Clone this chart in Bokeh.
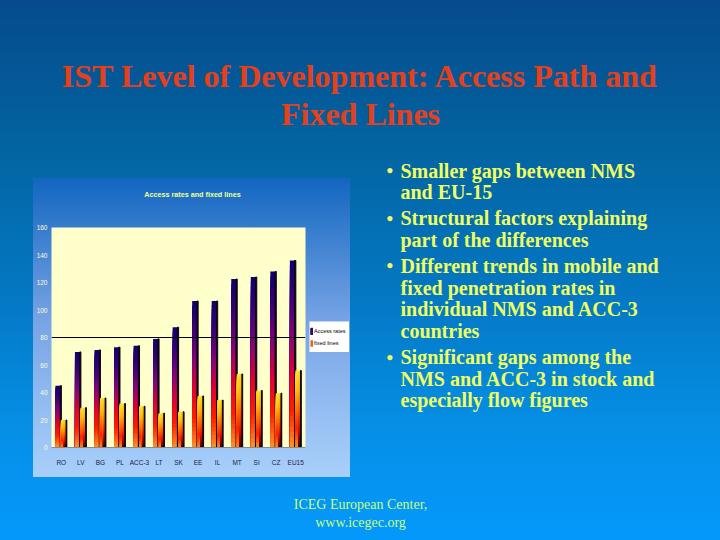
from bokeh.embed import file_html
from bokeh.resources import INLINE
from bokeh.plotting import figure
from bokeh.models import (ColumnDataSource, Label, Legend, LegendItem, Range1d,
                          Span, FixedTicker, NumeralTickFormatter)
from bokeh.transform import dodge

countries = ["RO", "LV", "BG", "PL", "ACC-3", "LT", "SK", "EE", "IL", "MT", "SI", "CZ", "EU15"]
access_rates = [45, 69.5, 71, 73, 74, 79, 87.5, 106.5, 106.5, 122.5, 124, 128, 136]
fixed_lines = [20, 29, 36, 32, 30, 25, 26, 37.5, 34.5, 53.5, 41.5, 39.5, 56]
y_ticks = [0, 20, 40, 60, 80, 100, 120, 140, 160]

title_lines = ["IST Level of Development: Access Path and", "Fixed Lines"]
bullets = [
    ["Smaller gaps between NMS", "and EU-15"],
    ["Structural factors explaining", "part of the differences"],
    ["Different trends in mobile and", "fixed penetration rates in", "individual NMS and ACC-3", "countries"],
    ["Significant gaps among the", "NMS and ACC-3 in stock and", "especially flow figures"],
]
footer_lines = ["ICEG European Center,", "www.icegec.org"]
chart_title = "Access rates and fixed lines"
series_names = ["Access rates", "fixed lines"]

# colour ramps, bottom of the bar to its top
access_ramp = [(250, 150, 40), (255, 30, 0), (225, 0, 50), (130, 5, 120), (60, 0, 120), (15, 0, 110)]
fixed_ramp = [(250, 140, 30), (255, 30, 0), (255, 110, 0), (255, 190, 20), (255, 225, 40)]
fixed_ramp_dark = [(50, 5, 0), (220, 15, 0), (255, 90, 0), (255, 170, 10), (255, 215, 30)]


def ramp_colour(ramp, t):
    pos = t * (len(ramp) - 1)
    i = min(int(pos), len(ramp) - 2)
    f = pos - i
    c = [round(ramp[i][k] + (ramp[i + 1][k] - ramp[i][k]) * f) for k in range(3)]
    return "#%02x%02x%02x" % tuple(c)


W, H = 720, 540

# slide: background and its texts
slide = figure(frame_width=W, frame_height=H, output_backend="svg", toolbar_location=None,
               x_range=Range1d(0, W), y_range=Range1d(H, 0),
               min_border=0, margin=0, border_fill_color=None, background_fill_color=None,
               x_axis_location=None, y_axis_location=None)
slide.styles = {"background": "linear-gradient(180deg,#064a8c 0%,#03629f 25%,#0478c4 55%,#0590e6 80%,#0598fc 100%)"}
slide.outline_line_color = None
slide.grid.visible = False


def text(x, y, s, color, size, style="normal", align="left"):
    slide.add_layout(Label(x=x, y=y, text=s, text_color=color, text_font="Liberation Serif",
                           text_font_size=size, text_font_style=style, text_align=align,
                           text_baseline="middle"))


TITLE = "#e5401c"
text(360, 75, title_lines[0], TITLE, "32px", "bold", "center")
text(360, 113, title_lines[1], TITLE, "32px", "bold", "center")

BODY = "#f0ff60"
y = 170
for b in bullets:
    text(386, y, "•", BODY, "19px", "bold")
    for k, line in enumerate(b):
        text(400, y, line, BODY, "20px", "bold")
        y += 26 if k == len(b) - 1 else 21.7

FOOT = "#c4ff7a"
text(360, 504, footer_lines[0], FOOT, "14px", "normal", "center")
text(360, 522, footer_lines[1], FOOT, "14px", "normal", "center")

# chart panel, laid over the slide
p = figure(width=317, height=299, output_backend="svg", toolbar_location=None,
           x_range=countries, y_range=(0, 160),
           min_border_left=18, min_border_right=45, min_border_top=49, min_border_bottom=30,
           margin=(178 - H, 0, 0, 33), border_fill_color=None, background_fill_color="#ffffcc")
p.styles = {"background": "linear-gradient(180deg,#1266c0 0%,#78a4e5 48%,#a9d0fb 100%)"}
p.outline_line_color = None
p.grid.visible = False


def slices(values, ramp, offset, width, n=36):
    xs, tops, cols = [], [], []
    for c, v in zip(countries, values):
        for j in reversed(range(n)):
            xs.append(c)
            tops.append(v * (j + 1) / n)
            cols.append(ramp_colour(ramp, (j + 0.5) / n))
    src = ColumnDataSource(dict(x=xs, top=tops, color=cols))
    return p.vbar(x=dodge("x", offset, range=p.x_range), bottom=0, top="top", width=width,
                  fill_color="color", line_color=None, source=src)


src_a = ColumnDataSource(dict(x=countries, top=access_rates))
src_f = ColumnDataSource(dict(x=countries, top=fixed_lines))
slices(access_rates, access_ramp, -0.17, 0.26)
p.vbar(x=dodge("x", -0.025, range=p.x_range), top="top", bottom=0, width=0.06, color="#0a0510", source=src_a)
slices(fixed_lines, fixed_ramp, 0.06, 0.16)
slices(fixed_lines, fixed_ramp_dark, 0.19, 0.12)
p.vbar(x=dodge("x", 0.265, range=p.x_range), top="top", bottom=0, width=0.04, color="#0a0510", source=src_f)

p.add_layout(Span(location=80, dimension="width", line_color="#000000", line_width=1.2))

p.yaxis.ticker = FixedTicker(ticks=y_ticks)
p.yaxis.formatter = NumeralTickFormatter(format="0")
p.yaxis.axis_line_color = None
p.yaxis.major_tick_line_color = None
p.yaxis.minor_tick_line_color = None
p.yaxis.major_tick_out = 0
p.yaxis.major_tick_in = 0
p.yaxis.major_label_text_color = "#ffffd8"
p.yaxis.major_label_text_font = "Liberation Sans"
p.yaxis.major_label_text_font_size = "6.5px"
p.yaxis.major_label_standoff = 4
p.xaxis.axis_line_color = "#8a8a8a"
p.xaxis.axis_line_width = 1
p.xaxis.major_tick_line_color = None
p.xaxis.minor_tick_line_color = None
p.xaxis.major_tick_out = 0
p.xaxis.major_tick_in = 0
p.xaxis.major_label_text_color = "#1a2340"
p.xaxis.major_label_text_font = "Liberation Sans"
p.xaxis.major_label_text_font_size = "6.5px"
p.xaxis.major_label_standoff = 11

# legend box, laid over the panel
key = figure(frame_width=40, frame_height=31, output_backend="svg", toolbar_location=None,
             min_border=0, margin=(321 - 477, 0, 0, 309), border_fill_color=None,
             background_fill_color="#ffffff", x_axis_location=None, y_axis_location=None,
             x_range=Range1d(0, 1), y_range=Range1d(0, 1))
key.outline_line_color = None
key.grid.visible = False
r1 = key.vbar(x=[5], top=[5], bottom=[4], width=0.1, fill_color="#4a0a78", line_color="#1a0040")
r2 = key.vbar(x=[5], top=[5], bottom=[4], width=0.1, fill_color="#e8481c", line_color="#f0a040")
legend = Legend(items=[LegendItem(label=series_names[0], renderers=[r1], index=0),
                       LegendItem(label=series_names[1], renderers=[r2], index=0)],
                location="center_left", orientation="vertical", background_fill_alpha=0,
                border_line_color=None, label_text_font="Liberation Sans",
                label_text_font_size="5.5px", label_text_color="#000000",
                glyph_width=3, glyph_height=8, label_standoff=1, spacing=4, padding=1, margin=1,
                label_height=8)
key.add_layout(legend, "center")

# chart heading, laid over the panel
head = figure(frame_width=110, frame_height=12, output_backend="svg", toolbar_location=None,
              min_border=0, margin=(188 - 352, 0, 0, 137), border_fill_color=None,
              background_fill_color=None, x_axis_location=None, y_axis_location=None,
              x_range=Range1d(0, 110), y_range=Range1d(0, 12))
head.outline_line_color = None
head.grid.visible = False
head.add_layout(Label(x=55, y=6, text=chart_title, text_color="#f4ff90",
                      text_font="Liberation Sans", text_font_size="7.2px", text_font_style="bold",
                      text_align="center", text_baseline="middle"))

open("out.html", "w").write(file_html((slide, p, key, head), INLINE))
